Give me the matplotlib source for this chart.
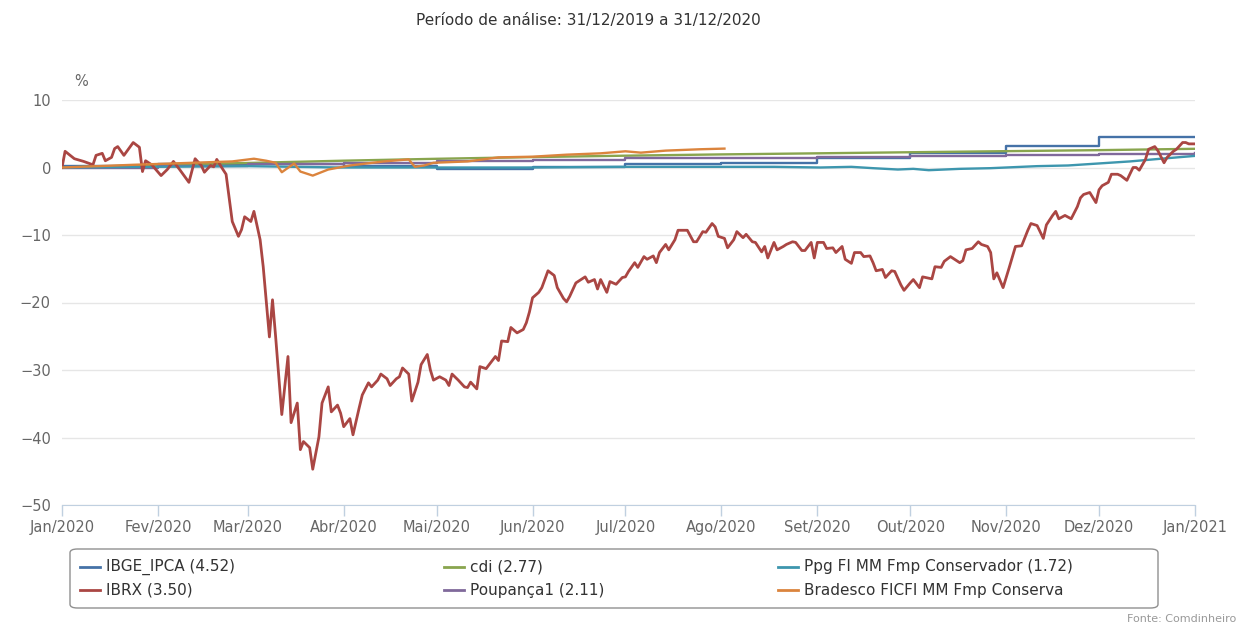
import numpy as np
import pandas as pd
import matplotlib
matplotlib.use("Agg")
import matplotlib.pyplot as plt
from matplotlib.lines import Line2D
from matplotlib.patches import FancyBboxPatch

# ---- data (% accumulated, day offsets from 01/01/2020) ----
start = pd.Timestamp("2020-01-01")

ibrx_days = [0, 1, 4, 7, 10, 11, 13, 14, 16, 17, 18, 20, 23, 25, 26, 27, 29, 32, 34, 36,
             38, 41, 43, 45, 46, 48, 49, 50, 52, 53, 55, 57, 58, 59, 61, 62, 64, 65, 67, 68,
             69, 71, 73, 74, 76, 77, 78, 80, 81, 83, 84, 86, 87, 89, 90, 91, 93, 94, 96, 97,
             99, 100, 102, 103, 105, 106, 108, 109, 110, 112, 113, 115, 116, 118, 119, 120, 122, 124, 125, 126,
             128, 130, 131, 132, 134, 135, 137, 138, 140, 141, 142, 144, 145, 147, 149, 150, 151, 152, 154, 155,
             157, 159, 160, 162, 163, 164, 166, 167, 169, 170, 172, 173, 174, 176, 177, 179, 181, 182, 183, 185,
             186, 188, 189, 191, 192, 193, 195, 196, 198, 199, 202, 204, 205, 207, 208, 210, 211, 212, 214, 215,
             217, 218, 220, 221, 223, 224, 226, 227, 228, 230, 231, 233, 234, 236, 237, 239, 240, 242, 243, 244,
             246, 247, 249, 250, 252, 253, 255, 256, 258, 259, 261, 262, 263, 265, 266, 268, 269, 271, 272, 274,
             275, 277, 278, 279, 281, 282, 284, 285, 287, 288, 290, 291, 292, 294, 296, 297, 299, 300, 301, 302,
             304, 306, 308, 310, 312, 313, 315, 317, 318, 320, 321, 322, 324, 326, 328, 329, 330, 332, 334, 335,
             336, 338, 339, 341, 342, 344, 346, 347, 348, 350, 351, 353, 354, 356, 357, 359, 360, 362, 363, 364,
             366]
ibrx_vals = [0.0, 2.4, 1.3, 0.9, 0.4, 1.8, 2.1, 1.0, 1.5, 2.8, 3.1, 1.8, 3.7, 3.0, -0.6, 1.0, 0.4, -1.2, -0.3, 0.9,
             -0.3, -2.2, 1.3, 0.3, -0.7, 0.3, 0.1, 1.2, -0.3, -1.0, -8.0, -10.2, -9.2, -7.3, -8.0, -6.5, -10.7, -14.7, -25.1, -19.6,
             -25.0, -36.6, -28.0, -37.8, -34.9, -41.8, -40.6, -41.5, -44.7, -39.9, -34.9, -32.5, -36.2, -35.2, -36.4, -38.4, -37.2, -39.6, -35.6, -33.7,
             -31.9, -32.5, -31.5, -30.6, -31.3, -32.3, -31.3, -31.0, -29.7, -30.6, -34.6, -31.8, -29.2, -27.7, -30.0, -31.5, -31.0, -31.5, -32.3, -30.6,
             -31.5, -32.5, -32.6, -31.8, -32.8, -29.5, -29.8, -29.2, -28.0, -28.6, -25.7, -25.8, -23.7, -24.5, -24.0, -23.0, -21.4, -19.3, -18.5, -17.8,
             -15.3, -16.0, -17.8, -19.4, -19.9, -19.1, -17.1, -16.8, -16.2, -17.0, -16.6, -18.0, -16.6, -18.5, -16.9, -17.3, -16.3, -16.2, -15.4, -14.1,
             -14.8, -13.2, -13.6, -13.1, -14.1, -12.6, -11.4, -12.2, -10.7, -9.3, -9.3, -11.0, -11.0, -9.5, -9.6, -8.3, -8.8, -10.2, -10.5, -11.9,
             -10.7, -9.5, -10.4, -9.9, -11.0, -11.1, -12.5, -11.7, -13.4, -11.1, -12.2, -11.7, -11.4, -11.0, -11.1, -12.3, -12.3, -11.1, -13.4, -11.1,
             -11.1, -12.0, -11.9, -12.6, -11.7, -13.6, -14.2, -12.6, -12.6, -13.2, -13.1, -14.1, -15.3, -15.1, -16.3, -15.3, -15.4, -17.4, -18.2, -17.1,
             -16.6, -17.8, -16.2, -16.3, -16.5, -14.7, -14.8, -13.9, -13.2, -13.5, -14.1, -13.8, -12.2, -12.0, -11.0, -11.4, -11.7, -12.6, -16.5, -15.6,
             -17.8, -14.8, -11.7, -11.6, -9.3, -8.3, -8.6, -10.5, -8.5, -7.1, -6.5, -7.6, -7.1, -7.6, -5.8, -4.5, -4.0, -3.7, -5.2, -3.3,
             -2.7, -2.2, -1.0, -1.0, -1.2, -1.9, 0.0, 0.0, -0.4, 1.2, 2.7, 3.1, 2.5, 0.7, 1.5, 2.4, 2.7, 3.7, 3.7, 3.5,
             3.5]

month_starts = ["2020-01-01", "2020-02-01", "2020-03-01", "2020-04-01", "2020-05-01", "2020-06-01",
                "2020-07-01", "2020-08-01", "2020-09-01", "2020-10-01", "2020-11-01", "2020-12-01",
                "2021-01-01"]
ipca_vals = [0.21, 0.46, 0.53, 0.22, -0.16, 0.10, 0.46, 0.70, 1.34, 2.22, 3.13, 4.52, 4.52]
cdi_vals = [0.0, 0.38, 0.67, 1.01, 1.29, 1.54, 1.75, 1.94, 2.10, 2.26, 2.42, 2.57, 2.77]
poup_vals = [0.0, 0.26, 0.52, 0.74, 0.96, 1.18, 1.35, 1.48, 1.61, 1.73, 1.85, 1.97, 2.11]

ppg_days = [0, 30, 60, 75, 90, 120, 150, 180, 210, 230, 245, 255, 262, 270, 275, 280, 285, 290,
            300, 305, 315, 325, 335, 345, 355, 366]
ppg_vals = [0.0, 0.1, 0.2, 0.1, 0.0, 0.0, 0.0, 0.1, 0.1, 0.1, 0.0, 0.1, -0.1, -0.3, -0.2, -0.4, -0.3, -0.2,
            -0.1, 0.0, 0.2, 0.3, 0.6, 0.9, 1.3, 1.72]

brad_days = [0, 23, 55, 62, 66, 69, 71, 75, 77, 81, 86, 93, 104, 112, 114, 117, 120, 131, 141, 152,
             163, 174, 182, 187, 195, 206, 214]
brad_vals = [0.0, 0.4, 0.9, 1.3, 1.0, 0.7, -0.7, 0.6, -0.6, -1.2, -0.3, 0.3, 0.9, 1.2, 0.1, 0.3, 0.7, 0.9, 1.5, 1.6,
             1.9, 2.1, 2.4, 2.2, 2.5, 2.7, 2.8]

labels = ["IBGE_IPCA (4.52)", "IBRX (3.50)", "cdi (2.77)", "Poupança1 (2.11)",
          "Ppg FI MM Fmp Conservador (1.72)", "Bradesco FICFI MM Fmp Conserva"]
colors = ["#4572A7", "#AA4643", "#89A54E", "#80699B", "#3D96AE", "#DB843D"]
month_names = ["Jan", "Fev", "Mar", "Abr", "Mai", "Jun", "Jul", "Ago", "Set", "Out", "Nov", "Dez"]

def to_dates(days):
    return start + pd.to_timedelta(days, unit="D")

months = pd.to_datetime(month_starts)

# ---- figure ----
fig = plt.figure(figsize=(12.46, 6.26), dpi=100)
ax = fig.add_axes([62 / 1246, 1 - 505 / 626, (1195 - 62) / 1246, (505 - 100) / 626])

lw = 1.7
ax.plot(months, ipca_vals, drawstyle="steps-post", color=colors[0], lw=lw, zorder=3)
ax.plot(to_dates(ibrx_days), ibrx_vals, color=colors[1], lw=2.0, zorder=4)
ax.plot(months, cdi_vals, color=colors[2], lw=lw, zorder=3)
ax.plot(months, poup_vals, drawstyle="steps-post", color=colors[3], lw=lw, zorder=3)
ax.plot(to_dates(ppg_days), ppg_vals, color=colors[4], lw=lw, zorder=3)
ax.plot(to_dates(brad_days), brad_vals, color=colors[5], lw=lw, zorder=5)

ax.set_xlim(months[0], months[-1])
ax.set_ylim(-50, 10)
ax.set_yticks(range(-50, 11, 10))
ax.yaxis.grid(True, color="#e6e6e6", lw=1)
ax.set_axisbelow(True)

ax.set_xticks(months)
ax.set_xticklabels([f"{month_names[d.month - 1]}/{d.year}" for d in months])
ax.tick_params(axis="x", colors="#C0D0E0", length=8, width=1, labelcolor="#666666",
               labelsize=10.5, pad=3)
ax.tick_params(axis="y", length=0, labelcolor="#666666", labelsize=10.5, pad=8)

for s in ["top", "right", "left"]:
    ax.spines[s].set_visible(False)
ax.spines["bottom"].set_color("#C0D0E0")

fig.text(74 / 1246, 1 - 82 / 626, "%", ha="left", va="center", fontsize=10.5, color="#666666")

fig.text(588 / 1246, 1 - 20 / 626, "Período de análise: 31/12/2019 a 31/12/2020",
         ha="center", va="center", fontsize=11, color="#333333")

# ---- legend drawn by hand to match the boxed 3-column layout ----
box = FancyBboxPatch((70 / 1246, 1 - 608 / 626), (1158 - 70) / 1246, (608 - 549) / 626,
                     boxstyle="round,pad=0,rounding_size=0.006", transform=fig.transFigure,
                     fc="white", ec="#909090", lw=1)
fig.add_artist(box)
col_x = [80, 444, 778]
row_y = [567, 590]
for i, (lab, c) in enumerate(zip(labels, colors)):
    x0 = col_x[i // 2]
    y0 = row_y[i % 2]
    fig.add_artist(Line2D([x0 / 1246, (x0 + 20) / 1246], [1 - y0 / 626] * 2,
                          color=c, lw=2, transform=fig.transFigure))
    fig.text((x0 + 26) / 1246, 1 - y0 / 626, lab, ha="left", va="center",
             fontsize=11, color="#333333")

fig.text(1236 / 1246, 1 - 619 / 626, "Fonte: Comdinheiro", ha="right", va="center",
         fontsize=8, color="#999999")

fig.savefig("out.png", dpi=100)
